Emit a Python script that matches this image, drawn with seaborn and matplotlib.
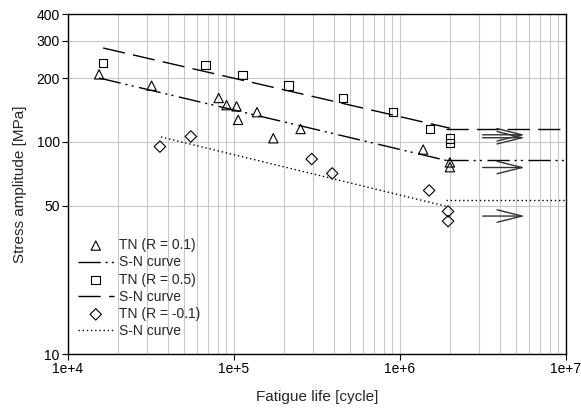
import numpy as np
import pandas as pd
import matplotlib
matplotlib.use("Agg")
import matplotlib.pyplot as plt
import matplotlib.ticker as mticker
import seaborn as sns

# test data
n_r01 = [15400, 31900, 80900, 90300, 103700, 106000, 137700, 172600, 252000, 1380000, 2000000, 2000000]
s_r01 = [208, 184, 161, 149, 147, 127, 138, 104, 115, 92, 80, 76]
n_r05 = [16300, 67500, 112700, 213000, 455000, 908000, 1520000, 2000000, 2000000]
s_r05 = [235, 230, 207, 184, 161, 138, 115, 104, 99]
n_rm01 = [35800, 55000, 294000, 391000, 1500000, 1950000, 1950000]
s_rm01 = [95, 106, 83, 71, 59, 47, 42.3]

# S-N curves (fit lines) and run-out levels
sn_n_r01 = [15400, 2000000]
sn_s_r01 = [200, 81]
sn_n_r05 = [16300, 2000000]
sn_s_r05 = [277, 116]
sn_n_rm01 = [36300, 1900000]
sn_s_rm01 = [105.5, 49.7]
runout_n = [1900000, 10000000]
runout_r01 = [81.7, 81.7]
runout_r05 = [115.6, 115.6]
runout_rm01 = [53.4, 53.4]

# run-out arrows
arrow_tail = 3150000
arrow_tip = 5660000
arrow_s = [108, 104.6, 75.7, 44.7]

sns.set_style("white")
plt.rcParams['font.family'] = ['Liberation Sans', 'DejaVu Sans']

fig = plt.figure(figsize=(5.81, 4.16), dpi=100)
ax = fig.add_axes([0.117, 0.149, 0.857, 0.817])

ls_ddot = (0, (16, 3.5, 1.5, 3, 1.5, 4))
ls_dash = (0, (16, 6))
ls_dot = (0, (1, 2))

mk = dict(facecolor='none', edgecolor='black', linewidth=0.8, zorder=4)
sns.scatterplot(x=n_r01, y=s_r01, marker='^', s=45, ax=ax, label='TN (R = 0.1)', **mk)
sns.lineplot(x=sn_n_r01, y=sn_s_r01, ax=ax, color='black', lw=1, linestyle=ls_ddot, label='S-N curve')
sns.scatterplot(x=n_r05, y=s_r05, marker='s', s=38, ax=ax, label='TN (R = 0.5)', **mk)
sns.lineplot(x=sn_n_r05, y=sn_s_r05, ax=ax, color='black', lw=1, linestyle=ls_dash, label='S-N curve')
sns.scatterplot(x=n_rm01, y=s_rm01, marker='D', s=34, ax=ax, label='TN (R = -0.1)', **mk)
sns.lineplot(x=sn_n_rm01, y=sn_s_rm01, ax=ax, color='black', lw=1, linestyle=ls_dot, label='S-N curve')

ax.plot(runout_n, runout_r01, color='black', lw=1, linestyle=ls_ddot)
ax.plot(runout_n, runout_r05, color='black', lw=1, linestyle=ls_dash)
ax.plot(runout_n, runout_rm01, color='black', lw=1, linestyle=ls_dot)

for s in arrow_s:
    ax.annotate('', xy=(arrow_tip, s), xytext=(arrow_tail, s),
                arrowprops=dict(arrowstyle='->,head_length=1.8,head_width=0.45',
                                color='#333333', lw=1, shrinkA=0, shrinkB=0))

ax.set_xscale('log')
ax.set_yscale('log')
ax.set_xlim(1e4, 1e7)
ax.set_ylim(10, 400)

ax.xaxis.set_major_locator(mticker.LogLocator(base=10))
ax.xaxis.set_major_formatter(mticker.FuncFormatter(lambda v, p: '1e+%d' % round(np.log10(v))))
ax.xaxis.set_minor_locator(mticker.LogLocator(base=10, subs=np.arange(2, 10)))
ax.xaxis.set_minor_formatter(mticker.NullFormatter())
ax.set_yticks([10, 50, 100, 200, 300, 400])
ax.yaxis.set_major_formatter(mticker.FuncFormatter(lambda v, p: '%d' % v))
ax.yaxis.set_minor_locator(mticker.NullLocator())

ax.grid(True, which='both', axis='x', color='#c8c8c8', lw=0.8)
ax.grid(True, which='major', axis='y', color='#c8c8c8', lw=0.8)
ax.set_axisbelow(True)
ax.tick_params(which='major', direction='out', length=4, width=0.8, labelsize=10, pad=2,
               bottom=True, left=True, colors='black')
ax.tick_params(which='minor', length=0)
for sp in ax.spines.values():
    sp.set_color('black')
    sp.set_linewidth(1)

ax.set_xlabel('Fatigue life [cycle]', fontsize=11, labelpad=10)
ax.set_ylabel('Stress amplitude [MPa]', fontsize=11, labelpad=7)

ax.legend(loc='lower left', bbox_to_anchor=(0.0, 0.018), frameon=False, fontsize=10,
          handlelength=2.6, handletextpad=0.4, labelspacing=0.23, borderaxespad=0.3)

fig.savefig('out.png', dpi=100)
